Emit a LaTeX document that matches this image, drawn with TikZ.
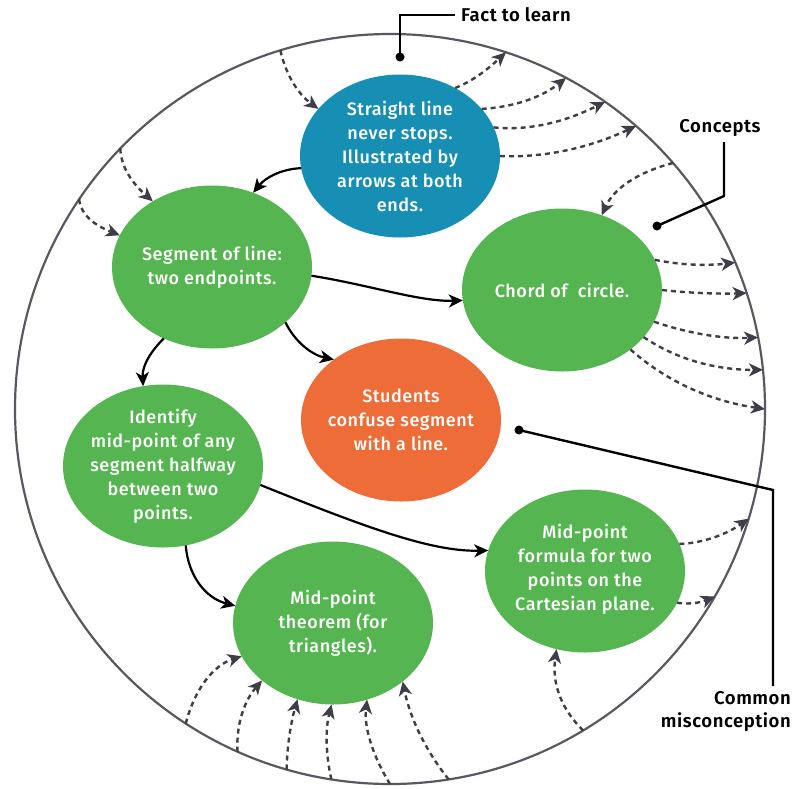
\documentclass[tikz,border=0pt]{standalone}
\usepackage{fontspec}
\setmainfont{Fira Sans}[UprightFont=* Medium, BoldFont=* SemiBold, LetterSpace=3]
\usetikzlibrary{arrows.meta,shapes.geometric}

\definecolor{factblue}{RGB}{23,143,180}
\definecolor{conceptgreen}{RGB}{85,181,80}
\definecolor{mistakeorange}{RGB}{238,108,55}
\definecolor{rimgray}{RGB}{88,88,98}
\definecolor{linkgray}{RGB}{62,62,72}

\begin{document}
\begin{tikzpicture}[x=1pt,y=-1pt,
  blob/.style={ellipse, minimum width=200pt, minimum height=163pt, inner sep=0pt, outer sep=0pt},
  blobtext/.style={text=white, align=center, inner sep=0pt, font=\fontsize{18}{24}\selectfont},
  tagtext/.style={inner sep=0pt, font=\bfseries\fontsize{18.5}{23}\selectfont},
  link/.style={draw=black, line width=2.2pt, -{Stealth[length=14pt,width=13pt,inset=4pt]}},
  reach/.style={draw=linkgray, line width=2.4pt, dash pattern=on 5pt off 4pt, -{Stealth[length=14pt,width=13pt,inset=4pt]}},
  leader/.style={draw=black, line width=2.4pt},
]
\useasboundingbox (0,0) rectangle (794,788);

% outer boundary of the topic
\node[circle, draw=rimgray, line width=2.2pt, minimum size=750pt, inner sep=0pt, outer sep=0pt] (rim) at (390,409) {};

% ideas
\node[blob, fill=factblue]      (fact)    at (400,156) {};
\node[blob, fill=conceptgreen]  (segment) at (212,267) {};
\node[blob, fill=conceptgreen]  (chord)   at (562,290) {};
\node[blob, fill=mistakeorange] (confuse) at (401,420) {};
\node[blob, fill=conceptgreen]  (midid)   at (163,466) {};
\node[blob, fill=conceptgreen]  (formula) at (585,571) {};
\node[blob, fill=conceptgreen]  (theorem) at (333,623) {};

\node[blobtext] (fact-t)    at (fact)    {Straight line\\never stops.\\Illustrated by\\arrows at both\\ends.};
\node[blobtext] (segment-t) at (segment) {Segment of line:\\two endpoints.};
\node[blobtext] (chord-t)   at (chord)   {Chord of~ circle.};
\node[blobtext] (confuse-t) at (confuse) {Students\\confuse segment\\with a line.};
\node[blobtext] (midid-t)   at (midid)   {Identify\\mid-point of any\\segment halfway\\between two\\points.};
\node[blobtext] (formula-t) at ([yshift=2pt]formula) {Mid-point\\formula for two\\points on the\\Cartesian plane.};
\node[blobtext] (theorem-t) at (theorem) {Mid-point\\theorem (for\\triangles).};

% links between ideas
\draw[link] (fact.187.6) .. controls (282,169) and (266,177) .. (segment.61.3);
\draw[link] (segment.-5.2) .. controls (370,285) and (420,302) .. (chord.186.9);
\draw[link] (segment.-37) .. controls (295,342) and (312,355) .. (confuse.138);
\draw[link] (segment.-124.6) .. controls (152,350) and (142,365) .. (midid.104.9);
\draw[link] (midid.-11.7) .. controls (360,525) and (430,552) .. (formula.168.5);
\draw[link] (midid.-74.8) .. controls (188,575) and (205,598) .. (theorem.170.9);

% links from outside the topic
\draw[reach] (rim.107.4) .. controls (286,75) and (298,94) .. (fact.150.3);
\draw[reach] (rim.136.5) .. controls (121,167) and (132,183) .. (segment.132.8);
\draw[reach] (rim.146.9) .. controls (81,215) and (94,225) .. (segment.161.9);
\draw[reach] (rim.41.3) .. controls (635,173) and (613,190) .. (chord.62.5);
\draw[reach] (rim.-59.9) .. controls (559,707) and (552,680) .. (formula.-110.9);
\draw[reach] (rim.-123) .. controls (195,688) and (214,665) .. (theorem.-160.6);
\draw[reach] (rim.-114.7) .. controls (236,723) and (245,700) .. (theorem.-141);
\draw[reach] (rim.-106.2) .. controls (287,749) and (290,726) .. (theorem.-115);
\draw[reach] (rim.-99.1) .. controls (326,756) and (325,730) .. (theorem.-91.4);
\draw[reach] (rim.-90.2) .. controls (371,753) and (364,725) .. (theorem.-66.7);
\draw[reach] (rim.-81.7) .. controls (422,746) and (409,713) .. (theorem.-40.2);

% links leading out of the topic
\draw[reach] (fact.51) .. controls (473,81) and (488,69) .. (rim.72.8);
\draw[reach] (fact.30.3) .. controls (515,107) and (542,97) .. (rim.62.5);
\draw[reach] (fact.17.9) .. controls (529,131) and (565,122) .. (rim.55.8);
\draw[reach] (fact.0.6) .. controls (544,158) and (589,148) .. (rim.49);
\draw[reach] (chord.18.8) .. controls (680,265) and (706,266) .. (rim.23.2);
\draw[reach] (chord.-0.6) .. controls (689,293) and (717,294) .. (rim.18.2);
\draw[reach] (chord.-19.4) .. controls (690,334) and (724,339) .. (rim.11.1);
\draw[reach] (chord.-30) .. controls (679,361) and (719,370) .. (rim.6.6);
\draw[reach] (chord.-41.9) .. controls (666,381) and (710,401) .. (rim.-0.2);
\draw[reach] (formula.16.1) .. controls (704,543) and (727,534) .. (rim.-17);
\draw[reach] (formula.-19) .. controls (685,604) and (697,604) .. (rim.-30.8);

% callouts
\node[tagtext, anchor=west] (fact-label) at (461,15) {Fact to learn};
\node[tagtext] (concept-label) at (720,128) {Concepts};
\node[tagtext, align=right, anchor=north east] (mis-label) at (791,691) {Common\\misconception};

\coordinate (fact-dot) at (400,57);
\coordinate (concept-dot) at (657,226);
\coordinate (concept-knee) at (724,196);
\coordinate (concept-end) at (724,142);
\coordinate (mis-dot) at (519,430);
\coordinate (mis-knee) at (773,490);
\coordinate (mis-end) at (773,686);

\draw[leader] (fact-dot) |- ([xshift=-6pt]fact-label.west);
\draw[leader] (concept-dot) -- (concept-knee) -- (concept-end);
\draw[leader] (mis-dot) -- (mis-knee) -- (mis-end);
\fill (fact-dot) circle (4.5pt);
\fill (concept-dot) circle (4.5pt);
\fill (mis-dot) circle (4.5pt);
\end{tikzpicture}
\end{document}
